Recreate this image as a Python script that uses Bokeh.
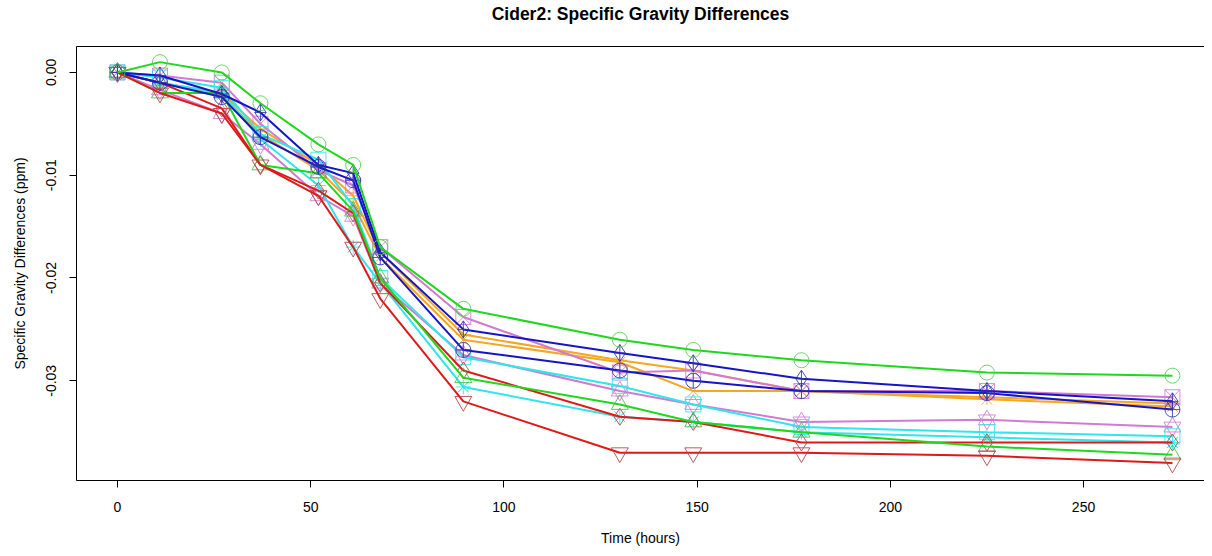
from bokeh.plotting import figure
from bokeh.embed import file_html
from bokeh.resources import INLINE
from bokeh.models import Range1d, FixedTicker, LinearAxis

# ---- data ----
times = [0, 11, 27, 37, 52, 61, 68, 89.5, 130, 149, 177, 225, 273]

green_circle = [0, 0.001, 0.0, -0.003, -0.007, -0.009, -0.017, -0.023, -0.026, -0.027, -0.028, -0.0292, -0.0295]
green_tri = [0, -0.002, -0.002, -0.009, -0.0098, -0.0135, -0.020, -0.0297, -0.0323, -0.034, -0.035, -0.0364, -0.0372]
blue_dp = [0, -0.0003, -0.0021, -0.0039, -0.009, -0.0098, -0.0175, -0.025, -0.0273, -0.0283, -0.0298, -0.031, -0.032]
blue_cp = [0, -0.001, -0.0024, -0.0063, -0.0092, -0.0105, -0.018, -0.027, -0.029, -0.030, -0.031, -0.0312, -0.0328]
orange_a = [0, -0.001, -0.0022, -0.006, -0.0095, -0.0128, -0.018, -0.026, -0.0282, -0.031, -0.031, -0.0318, -0.0325]
orange_b = [0, -0.001, -0.002, -0.0055, -0.009, -0.012, -0.0175, -0.0255, -0.028, -0.029, -0.031, -0.0316, -0.0322]
orchid_sq = [0, -0.0003, -0.001, -0.005, -0.0095, -0.011, -0.017, -0.0238, -0.0292, -0.029, -0.031, -0.031, -0.0316]
orchid_star = [0, -0.0017, -0.004, -0.007, -0.012, -0.014, -0.0205, -0.0275, -0.031, -0.0323, -0.034, -0.0338, -0.0345]
cyan_sq = [0, -0.0005, -0.0015, -0.006, -0.0085, -0.013, -0.020, -0.0277, -0.0305, -0.0323, -0.0345, -0.035, -0.0354]
cyan_ast = [0, -0.001, -0.002, -0.0065, -0.011, -0.017, -0.0205, -0.0306, -0.0335, -0.034, -0.035, -0.0355, -0.036]
red_dia = [0, -0.001, -0.0035, -0.009, -0.0115, -0.0137, -0.0205, -0.029, -0.0335, -0.034, -0.036, -0.036, -0.036]
red_tri = [0, -0.002, -0.004, -0.009, -0.012, -0.017, -0.022, -0.032, -0.037, -0.037, -0.037, -0.0373, -0.038]

x_ticks = [0, 50, 100, 150, 200, 250]
y_ticks = [0.0, -0.01, -0.02, -0.03]
y_tick_labels = {0.0: "0.00", -0.01: "-0.01", -0.02: "-0.02", -0.03: "-0.03"}
title_text = "Cider2: Specific Gravity Differences"

GREEN = "#1ed81e"
BLUE = "#1414c8"
ORANGE = "#f5a623"
ORCHID = "#d27ad2"
CYAN = "#2ee6ec"
RED = "#e01818"

series = [
    (orange_b, ORANGE, ["cross"], ORANGE),
    (orange_a, ORANGE, ["x"], ORANGE),
    (orchid_sq, ORCHID, ["square_x"], ORCHID),
    (orchid_star, ORCHID, ["triangle", "inverted_triangle"], ORCHID),
    (cyan_sq, CYAN, ["square"], CYAN),
    (cyan_ast, CYAN, ["asterisk", "x"], CYAN),
    (red_dia, RED, ["diamond"], "#b04040"),
    (green_tri, GREEN, ["triangle"], "#40c040"),
    (blue_cp, BLUE, ["circle_cross"], "#3030b0"),
    (blue_dp, BLUE, ["diamond_cross"], "#3030b0"),
    (red_tri, RED, ["inverted_triangle"], "#b04040"),
    (green_circle, GREEN, ["circle"], "#50d050"),
]

FONT = "Liberation Sans"

p = figure(width=1204, height=548, output_backend="svg", toolbar_location=None,
           x_range=Range1d(-10.6, 281.3), y_range=Range1d(-0.0397, 0.00252),
           min_border_left=76, min_border_right=0, min_border_top=46, min_border_bottom=67)

p.xgrid.visible = False
p.ygrid.visible = False
p.outline_line_color = None
p.background_fill_color = "white"
p.border_fill_color = "white"

bx = p.below[0]
ly = p.left[0]
for ax in (bx, ly):
    ax.axis_line_color = "black"
    ax.major_tick_line_color = "black"
    ax.major_tick_in = 0
    ax.major_tick_out = 7
    ax.minor_tick_line_color = None
    ax.major_label_text_font = FONT
    ax.major_label_text_font_size = "14px"
    ax.major_label_text_color = "black"
    ax.axis_label_text_font = FONT
    ax.axis_label_text_font_size = "14px"
    ax.axis_label_text_font_style = "normal"
    ax.axis_label_text_color = "black"

bx.ticker = FixedTicker(ticks=x_ticks)
ly.ticker = FixedTicker(ticks=y_ticks)
ly.major_label_overrides = y_tick_labels
ly.major_label_orientation = "vertical"
bx.axis_label = "Time (hours)"
ly.axis_label = "Specific Gravity Differences (ppm)"
bx.major_label_standoff = 14
bx.axis_label_standoff = 15
ly.major_label_standoff = 13
ly.axis_label_standoff = 16

# top edge of the box, carrying the chart title as its label
top = LinearAxis(ticker=FixedTicker(ticks=[]), axis_line_color="black",
                 major_tick_line_color=None, minor_tick_line_color=None,
                 major_label_text_font_size="0px", major_label_standoff=0,
                 major_tick_out=0, major_tick_in=0,
                 axis_label=title_text, axis_label_text_font=FONT,
                 axis_label_text_font_size="17.5px", axis_label_text_font_style="bold",
                 axis_label_text_color="black", axis_label_standoff=23)
p.add_layout(top, "above")

for vals, col, markers, mcol in series:
    p.line(times, vals, line_color=col, line_width=2)
    for m in markers:
        if m in ("triangle", "inverted_triangle"):
            sz = 17
        elif m in ("diamond", "diamond_cross"):
            sz = 17
        else:
            sz = 15
        p.scatter(times, vals, marker=m, size=sz, line_color=mcol, line_width=1,
                  fill_color=None, line_alpha=0.85)

open("out.html", "w").write(file_html(p, INLINE))
